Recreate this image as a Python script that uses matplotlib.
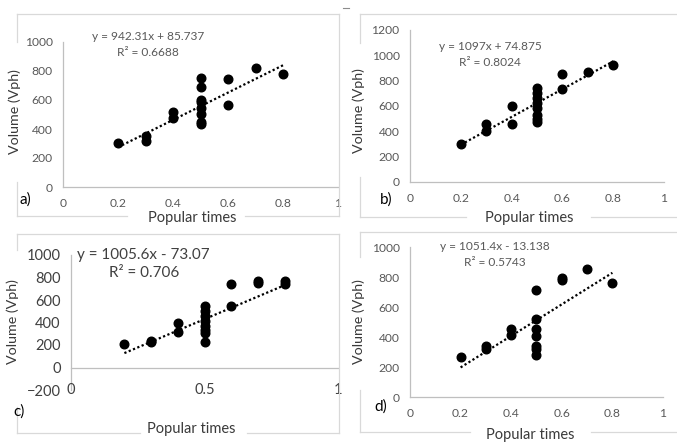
import matplotlib
matplotlib.use("Agg")
import matplotlib.pyplot as plt
from matplotlib.lines import Line2D

plt.rcParams['font.family'] = ['Lato', 'DejaVu Sans']

# data
popular_a = [0.2, 0.3, 0.3, 0.4, 0.4, 0.5, 0.5, 0.5, 0.5, 0.5, 0.5, 0.5, 0.5, 0.6, 0.6, 0.7, 0.8]
volume_a = [300, 350, 320, 518, 478, 750, 688, 600, 585, 545, 505, 450, 432, 742, 566, 824, 782]
trend_a = (942.31, 85.737)
eq_a = ["y = 942.31x + 85.737", "R² = 0.6688"]

popular_b = [0.2, 0.3, 0.3, 0.4, 0.4, 0.5, 0.5, 0.5, 0.5, 0.5, 0.5, 0.5, 0.5, 0.6, 0.6, 0.7, 0.8]
volume_b = [298, 455, 405, 600, 458, 742, 705, 660, 620, 585, 530, 495, 475, 855, 735, 866, 925]
trend_b = (1097.0, 74.875)
eq_b = ["y = 1097x + 74.875", "R² = 0.8024"]

popular_c = [0.2, 0.3, 0.3, 0.4, 0.4, 0.5, 0.5, 0.5, 0.5, 0.5, 0.5, 0.5, 0.5, 0.6, 0.6, 0.7, 0.7, 0.8, 0.8]
volume_c = [210, 238, 230, 398, 318, 548, 505, 460, 415, 370, 335, 305, 228, 745, 550, 768, 752, 765, 738]
trend_c = (1005.6, -73.07)
eq_c = ["y = 1005.6x - 73.07", "R² = 0.706"]

popular_d = [0.2, 0.3, 0.3, 0.4, 0.4, 0.5, 0.5, 0.5, 0.5, 0.5, 0.5, 0.5, 0.6, 0.6, 0.7, 0.8]
volume_d = [264, 340, 320, 451, 413, 716, 518, 451, 407, 340, 318, 282, 792, 780, 856, 760]
trend_d = (1051.4, -13.138)
eq_d = ["y = 1051.4x - 13.138", "R² = 0.5743"]

W, H = 677, 443
fig = plt.figure(figsize=(W / 100, H / 100), dpi=100)

GRID = '#d9d9d9'
AXC = '#bfbfbf'


def fline(x0, y0, x1, y1, color=GRID, lw=0.9):
    fig.add_artist(Line2D([x0 / W, x1 / W], [1 - y0 / H, 1 - y1 / H], color=color, lw=lw,
                          transform=fig.transFigure))


def border(l, t, r, b, ygap, xgap):
    fline(l, t, r, t)
    fline(r, t, r, b)
    fline(l, t, l, ygap[0])
    fline(l, ygap[1], l, b)
    fline(l, b, xgap[0], b)
    fline(xgap[1], b, r, b)


def ftext(x, y, s, **kw):
    fig.text(x / W, 1 - y / H, s, **kw)


def panel(box, xs, ys, trend, eq, ylim, ystep, xticks, xlabels, cfg):
    l, t, r, b = box
    ax = fig.add_axes([l / W, 1 - b / H, (r - l) / W, (b - t) / H])
    ax.set_xlim(0, 1)
    ax.set_ylim(*ylim)
    ax.set_yticks(range(ylim[0], ylim[1] + 1, ystep))
    for s in ['top', 'right']:
        ax.spines[s].set_visible(False)
    for s in ['left', 'bottom']:
        ax.spines[s].set_color(AXC)
        ax.spines[s].set_linewidth(0.9)
    ax.tick_params(length=0, labelsize=cfg['tick'], labelcolor=cfg['tickc'])
    ax.tick_params(axis='y', pad=cfg['ypad'])
    ax.set_xticks(xticks)
    if cfg.get('low_labels'):
        ax.spines['bottom'].set_position(('data', 0))
        ax.set_xticklabels([])
        for v, lab in zip(xticks, xlabels):
            ax.text(v, 0, lab, transform=ax.get_xaxis_transform(), ha='center', va='center',
                    fontsize=cfg['tick'], color=cfg['tickc'])
    else:
        ax.set_xticklabels(xlabels)
        ax.tick_params(axis='x', pad=cfg['xpad'])
    ax.patch.set_alpha(0)
    ax.plot(xs, ys, 'o', color='black', markersize=6.2, zorder=3, clip_on=False)
    slope, icpt = trend
    x0, x1 = min(xs), max(xs)
    ax.plot([x0, x1], [slope * x0 + icpt, slope * x1 + icpt], color='black', lw=1.6,
            linestyle=(0, (1, 1.1)), zorder=2)
    return ax


base = dict(tick=8.7, tickc='#595959', ypad=7.5, xpad=8)
big = dict(tick=10.5, tickc='#404040', ypad=7.5, xpad=8, low_labels=True)
ticks5 = [0, 0.2, 0.4, 0.6, 0.8, 1]
labels5 = ['0', '0.2', '0.4', '0.6', '0.8', '1']

# panel a
border(17, 14, 339, 216, (42, 182), (127, 245))
panel((63, 42, 338, 187), popular_a, volume_a, trend_a, eq_a, (0, 1000), 200, ticks5, labels5, base)
ftext(148, 37, eq_a[0], ha='center', va='center', fontsize=8.6, color='#595959')
ftext(148, 53, eq_a[1], ha='center', va='center', fontsize=8.6, color='#595959')
ftext(15, 112, 'Volume (Vph)', rotation=90, ha='center', va='center', fontsize=10.3, color='#3a3a3a')
ftext(192, 218, 'Popular times', ha='center', va='center', fontsize=10.5, color='#3a3a3a')
ftext(25, 200, 'a)', ha='center', va='center', fontsize=11, color='black')

# panel b
border(360, 14, 690, 217, (43, 177), (466, 591))
panel((410, 30, 664, 182), popular_b, volume_b, trend_b, eq_b, (0, 1200), 200, ticks5, labels5, base)
ftext(490, 46, eq_b[0], ha='center', va='center', fontsize=8.6, color='#595959')
ftext(490, 62, eq_b[1], ha='center', va='center', fontsize=8.6, color='#595959')
ftext(359, 111, 'Volume (Vph)', rotation=90, ha='center', va='center', fontsize=10.3, color='#3a3a3a')
ftext(529, 218, 'Popular times', ha='center', va='center', fontsize=10.5, color='#3a3a3a')
ftext(386, 200, 'b)', ha='center', va='center', fontsize=11, color='black')

# panel c
border(17, 234, 339, 433, (250, 407), (140, 247))
panel((71, 255, 338, 390), popular_c, volume_c, trend_c, eq_c, (-200, 1000), 200,
      [0, 0.5, 1], ['0', '0.5', '1'], big)
ftext(143, 255, eq_c[0], ha='center', va='center', fontsize=11, color='#404040')
ftext(144, 273, eq_c[1], ha='center', va='center', fontsize=11, color='#404040')
ftext(12.5, 322, 'Volume (Vph)', rotation=90, ha='center', va='center', fontsize=10.3, color='#3a3a3a')
ftext(191, 429, 'Popular times', ha='center', va='center', fontsize=10.5, color='#3a3a3a')
ftext(19, 412, 'c)', ha='center', va='center', fontsize=11, color='black')

# panel d
border(360, 232, 690, 432, (257, 390), (470, 591))
panel((410, 247, 663, 397), popular_d, volume_d, trend_d, eq_d, (0, 1000), 200, ticks5, labels5, base)
ftext(495, 247, eq_d[0], ha='center', va='center', fontsize=8.6, color='#595959')
ftext(495, 263, eq_d[1], ha='center', va='center', fontsize=8.6, color='#595959')
ftext(359, 322, 'Volume (Vph)', rotation=90, ha='center', va='center', fontsize=10.3, color='#3a3a3a')
ftext(530, 435, 'Popular times', ha='center', va='center', fontsize=10.5, color='#3a3a3a')
ftext(381, 407, 'd)', ha='center', va='center', fontsize=11, color='black')

# small stray mark at the top
fline(343, 8, 349, 8, color='#8c8c8c', lw=0.8)

fig.savefig('out.png', dpi=100)
